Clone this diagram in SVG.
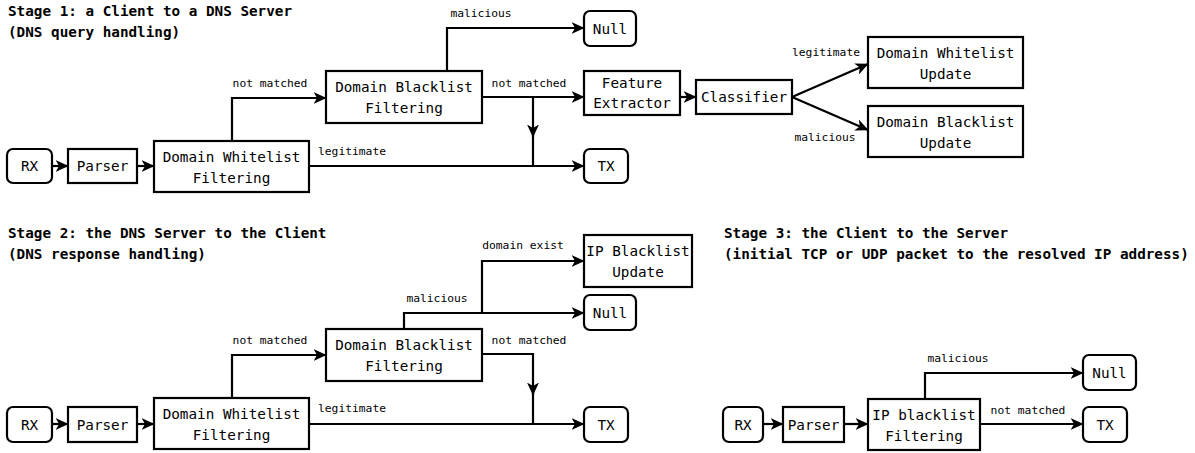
<svg xmlns="http://www.w3.org/2000/svg" width="1195" height="453" viewBox="0 0 1195 453">
<style>
.box{fill:#fff;stroke:#000;stroke-width:2.2}
.t{font-family:"DejaVu Sans Mono",monospace;font-size:14.3px;fill:#000;text-anchor:middle}
.lbl{font-family:"DejaVu Sans Mono",monospace;font-size:11.3px;fill:#000;text-anchor:middle}
.ttl{font-family:"DejaVu Sans Mono",monospace;font-size:14.3px;font-weight:bold;fill:#000}
.e{fill:none;stroke:#000;stroke-width:2.2}
.a{marker-end:url(#arr)}
</style>
<defs>
<marker id="arr" markerUnits="userSpaceOnUse" markerWidth="13" markerHeight="12" viewBox="0 0 13 12" refX="12.5" refY="6" orient="auto">
<path d="M0,0 L13,6 L0,12 L3.5,6 z" fill="#000"/>
</marker>
</defs>
<rect width="1195" height="453" fill="#fff"/>
<g id="titles">
<text class="ttl" x="8" y="16">Stage 1: a Client to a DNS Server</text>
<text class="ttl" x="8" y="37">(DNS query handling)</text>
<text class="ttl" x="8" y="238">Stage 2: the DNS Server to the Client</text>
<text class="ttl" x="8" y="259">(DNS response handling)</text>
<text class="ttl" x="724" y="238">Stage 3: the Client to the Server</text>
<text class="ttl" x="724" y="259">(initial TCP or UDP packet to the resolved IP address)</text>
</g>
<g id="connectors">
<path class="e a" d="M52,166 L68,166"/>
<path class="e a" d="M137,166 L154,166"/>
<path class="e a" d="M232,141 L232,98 L326,98"/>
<path class="e a" d="M309,166 L584,166"/>
<path class="e a" d="M447,71 L447,28 L584,28"/>
<path class="e a" d="M482,97 L584,97"/>
<path class="e a" d="M533,97 L533,137"/>
<path class="e" d="M533,134 L533,166"/>
<path class="e a" d="M680,97 L696,97"/>
<path class="e a" d="M792,97 L868,64"/>
<path class="e a" d="M792,97 L868,130"/>
<path class="e a" d="M52,424 L68,424"/>
<path class="e a" d="M137,424 L154,424"/>
<path class="e a" d="M232,398 L232,355 L326,355"/>
<path class="e a" d="M309,424 L584,424"/>
<path class="e a" d="M404,328 L404,313 L584,313"/>
<path class="e a" d="M482,313 L482,261 L584,261"/>
<path class="e a" d="M482,354 L533,354 L533,395"/>
<path class="e" d="M533,392 L533,424"/>
<path class="e a" d="M763,424 L783,424"/>
<path class="e a" d="M844,424 L868,424"/>
<path class="e a" d="M925,399 L925,373 L1083,373"/>
<path class="e a" d="M980,424 L1083,424"/>
<text class="lbl" x="270" y="87">not matched</text>
<text class="lbl" x="352" y="155">legitimate</text>
<text class="lbl" x="481" y="17">malicious</text>
<text class="lbl" x="529" y="87">not matched</text>
<text class="lbl" x="826" y="56">legitimate</text>
<text class="lbl" x="825" y="141">malicious</text>
<text class="lbl" x="270" y="344">not matched</text>
<text class="lbl" x="352" y="412">legitimate</text>
<text class="lbl" x="437" y="302">malicious</text>
<text class="lbl" x="523" y="249">domain exist</text>
<text class="lbl" x="529" y="344">not matched</text>
<text class="lbl" x="958" y="362">malicious</text>
<text class="lbl" x="1028" y="414">not matched</text>
</g>
<g id="s1-rx"><rect class="box" x="7" y="149" width="45" height="34" rx="6"/><text class="t" x="29.5" y="171">RX</text></g>
<g id="s1-parser"><rect class="box" x="68" y="149" width="69" height="34"/><text class="t" x="102.5" y="171">Parser</text></g>
<g id="s1-dwf"><rect class="box" x="154" y="141" width="155" height="51"/><text class="t" x="231.5" y="161.5">Domain Whitelist</text><text class="t" x="231.5" y="182.5">Filtering</text></g>
<g id="s1-dbf"><rect class="box" x="326" y="71" width="156" height="52"/><text class="t" x="404" y="92">Domain Blacklist</text><text class="t" x="404" y="113">Filtering</text></g>
<g id="s1-null"><rect class="box" x="584" y="11" width="52" height="35" rx="6"/><text class="t" x="610" y="33.5">Null</text></g>
<g id="s1-fe"><rect class="box" x="584" y="71" width="96" height="44"/><text class="t" x="632" y="88">Feature</text><text class="t" x="632" y="108">Extractor</text></g>
<g id="s1-classifier"><rect class="box" x="696" y="80" width="96" height="34"/><text class="t" x="744" y="102">Classifier</text></g>
<g id="s1-dwu"><rect class="box" x="868" y="37" width="155" height="51"/><text class="t" x="945.5" y="57.5">Domain Whitelist</text><text class="t" x="945.5" y="78.5">Update</text></g>
<g id="s1-dbu"><rect class="box" x="868" y="106" width="155" height="51"/><text class="t" x="945.5" y="126.5">Domain Blacklist</text><text class="t" x="945.5" y="147.5">Update</text></g>
<g id="s1-tx"><rect class="box" x="584" y="149" width="44" height="34" rx="6"/><text class="t" x="606" y="171">TX</text></g>
<g id="s2-rx"><rect class="box" x="7" y="407" width="45" height="35" rx="6"/><text class="t" x="29.5" y="429.5">RX</text></g>
<g id="s2-parser"><rect class="box" x="68" y="407" width="69" height="35"/><text class="t" x="102.5" y="429.5">Parser</text></g>
<g id="s2-dwf"><rect class="box" x="154" y="398" width="155" height="51"/><text class="t" x="231.5" y="418.5">Domain Whitelist</text><text class="t" x="231.5" y="439.5">Filtering</text></g>
<g id="s2-dbf"><rect class="box" x="326" y="329" width="156" height="52"/><text class="t" x="404" y="350">Domain Blacklist</text><text class="t" x="404" y="371">Filtering</text></g>
<g id="s2-ipbu"><rect class="box" x="584" y="235" width="108" height="52"/><text class="t" x="638" y="256">IP Blacklist</text><text class="t" x="638" y="277">Update</text></g>
<g id="s2-null"><rect class="box" x="584" y="295" width="52" height="35" rx="6"/><text class="t" x="610" y="317.5">Null</text></g>
<g id="s2-tx"><rect class="box" x="584" y="407" width="44" height="35" rx="6"/><text class="t" x="606" y="429.5">TX</text></g>
<g id="s3-rx"><rect class="box" x="723" y="407" width="40" height="35" rx="6"/><text class="t" x="743" y="429.5">RX</text></g>
<g id="s3-parser"><rect class="box" x="783" y="407" width="61" height="35"/><text class="t" x="813.5" y="429.5">Parser</text></g>
<g id="s3-ipf"><rect class="box" x="868" y="399" width="112" height="51"/><text class="t" x="924" y="419.5">IP blacklist</text><text class="t" x="924" y="440.5">Filtering</text></g>
<g id="s3-null"><rect class="box" x="1083" y="355" width="53" height="35" rx="6"/><text class="t" x="1109.5" y="377.5">Null</text></g>
<g id="s3-tx"><rect class="box" x="1083" y="407" width="44" height="35" rx="6"/><text class="t" x="1105" y="429.5">TX</text></g>
</svg>
